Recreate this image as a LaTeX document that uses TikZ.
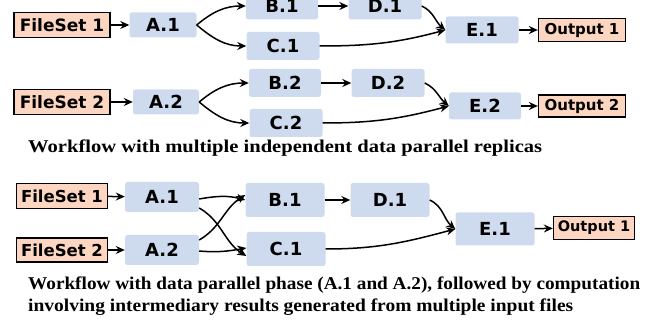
\documentclass[tikz,border=0pt]{standalone}
\usepackage{fontspec}
\usetikzlibrary{arrows.meta}
\newfontfamily\boxfont{DejaVu Sans}
\newfontfamily\serifcap{Liberation Serif}
\newcommand\capfont{\serifcap\bfseries\fontsize{18}{22}\selectfont}
\newcommand\fitw[2]{\resizebox{#1}{\height}{#2}}
\definecolor{procblue}{RGB}{206,219,239}
\definecolor{iopeach}{RGB}{252,214,192}
\tikzset{
  proc/.style={fill=procblue, rounded corners=2.5pt, inner sep=0pt,
    font=\boxfont\bfseries\fontsize{18}{18}\selectfont},
  io/.style={draw=black, line width=1.3pt, fill=iopeach, inner sep=0pt,
    font=\boxfont\bfseries\fontsize{17}{17}\selectfont},
  outio/.style={io, font=\boxfont\bfseries\fontsize{15}{15}\selectfont},
  flow/.style={line width=1.5pt, -{Stealth[length=9pt,width=8pt,inset=3pt]}},
  captext/.style={anchor=base west, inner sep=0pt, font=\capfont, align=left}
}
\begin{document}
\begin{tikzpicture}[x=1pt,y=-1pt]
\useasboundingbox (0,0) rectangle (654,320);
% ---------- top: two replicas ----------
\node[io, minimum width=96pt, minimum height=25pt] (fs1) at (62,25) {FileSet 1};
\node[proc, minimum width=67pt, minimum height=25pt] (a1) at (163,25) {A.1};
\node[proc, minimum width=72pt, minimum height=27pt] (b1) at (282,6) {B.1};
\node[proc, minimum width=73pt, minimum height=28pt] (c1) at (283,46) {C.1};
\node[proc, minimum width=73pt, minimum height=27pt] (d1) at (385,6) {D.1};
\node[proc, minimum width=73pt, minimum height=27pt] (e1) at (482,30) {E.1};
\node[outio, minimum width=87pt, minimum height=23pt] (o1) at (582,30) {Output 1};

\node[io, minimum width=96pt, minimum height=25pt] (fs2) at (62,102) {FileSet 2};
\node[proc, minimum width=66pt, minimum height=25pt] (a2) at (166,102) {A.2};
\node[proc, minimum width=72pt, minimum height=28pt] (b2) at (285,83) {B.2};
\node[proc, minimum width=73pt, minimum height=28pt] (c2) at (286,123) {C.2};
\node[proc, minimum width=73pt, minimum height=28pt] (d2) at (388,83) {D.2};
\node[proc, minimum width=72pt, minimum height=27pt] (e2) at (485,106) {E.2};
\node[outio, minimum width=87pt, minimum height=22pt] (o2) at (582,106) {Output 2};

\draw[flow] (fs1) -- (a1);
\draw[flow] (a1.east) to[out=40,in=180] (b1.west);
\draw[flow] (a1.east) to[out=-40,in=180] (c1.west);
\draw[flow] (b1) -- (d1);
\draw[flow] (d1.east) to[out=-25,in=140] (e1.west);
\draw[flow] (c1.east) to[out=0,in=195] (e1.west);
\draw[flow] (e1) -- (o1);

\draw[flow] (fs2) -- (a2);
\draw[flow] (a2.east) to[out=40,in=180] (b2.west);
\draw[flow] (a2.east) to[out=-40,in=180] (c2.west);
\draw[flow] (b2) -- (d2);
\draw[flow] (d2.east) to[out=-25,in=140] (e2.west);
\draw[flow] (c2.east) to[out=0,in=195] (e2.west);
\draw[flow] (e2) -- (o2);

\node[captext] (cap1) at (28,153) {\fitw{514pt}{Workflow with multiple independent data parallel replicas}};

% ---------- bottom: data parallel phase ----------
\node[io, minimum width=91pt, minimum height=25pt, font=\boxfont\bfseries\fontsize{16.5}{16.5}\selectfont] (gfs1) at (62,196) {FileSet 1};
\node[proc, minimum width=74pt, minimum height=30pt] (ga1) at (162,197) {A.1};
\node[io, minimum width=91pt, minimum height=24pt, font=\boxfont\bfseries\fontsize{16.5}{16.5}\selectfont] (gfs2) at (62,250) {FileSet 2};
\node[proc, minimum width=74pt, minimum height=30pt] (ga2) at (162,250) {A.2};
\node[proc, minimum width=79pt, minimum height=34pt] (gb1) at (285,200) {B.1};
\node[proc, minimum width=79pt, minimum height=34pt] (gc1) at (286,249) {C.1};
\node[proc, minimum width=79pt, minimum height=34pt] (gd1) at (390,200) {D.1};
\node[proc, minimum width=79pt, minimum height=33pt] (ge1) at (495,229) {E.1};
\node[outio, minimum width=81pt, minimum height=23pt, font=\boxfont\bfseries\fontsize{14.5}{14.5}\selectfont] (go1) at (594,228) {Output 1};

\draw[flow] (gfs1) -- (ga1);
\draw[flow] (gfs2) -- (ga2);
\draw[flow] ([yshift=-2pt]ga1.east) to[out=10,in=165] (gb1.west);
\draw[flow] ([yshift=-11pt]ga1.east) to[out=-30,in=148] ([yshift=-7pt]gc1.west);
\draw[flow] ([yshift=10pt]ga2.east) to[out=30,in=212] ([yshift=5pt]gb1.west);
\draw[flow] ([yshift=-1pt]ga2.east) to[out=-5,in=190] ([yshift=1pt]gc1.west);
\draw[flow] (gb1) -- (gd1);
\draw[flow] (gd1.east) to[out=-25,in=140] (ge1.west);
\draw[flow] (gc1.east) to[out=0,in=195] (ge1.west);
\draw[flow] (ge1) -- (go1);

\node[captext] (cap2) at (28,290) {\fitw{612pt}{Workflow with data parallel phase (A.1 and A.2), followed by computation}};
\node[captext] (cap3) at (28,312) {\fitw{545pt}{involving intermediary results generated from multiple input files}};
\end{tikzpicture}
\end{document}
